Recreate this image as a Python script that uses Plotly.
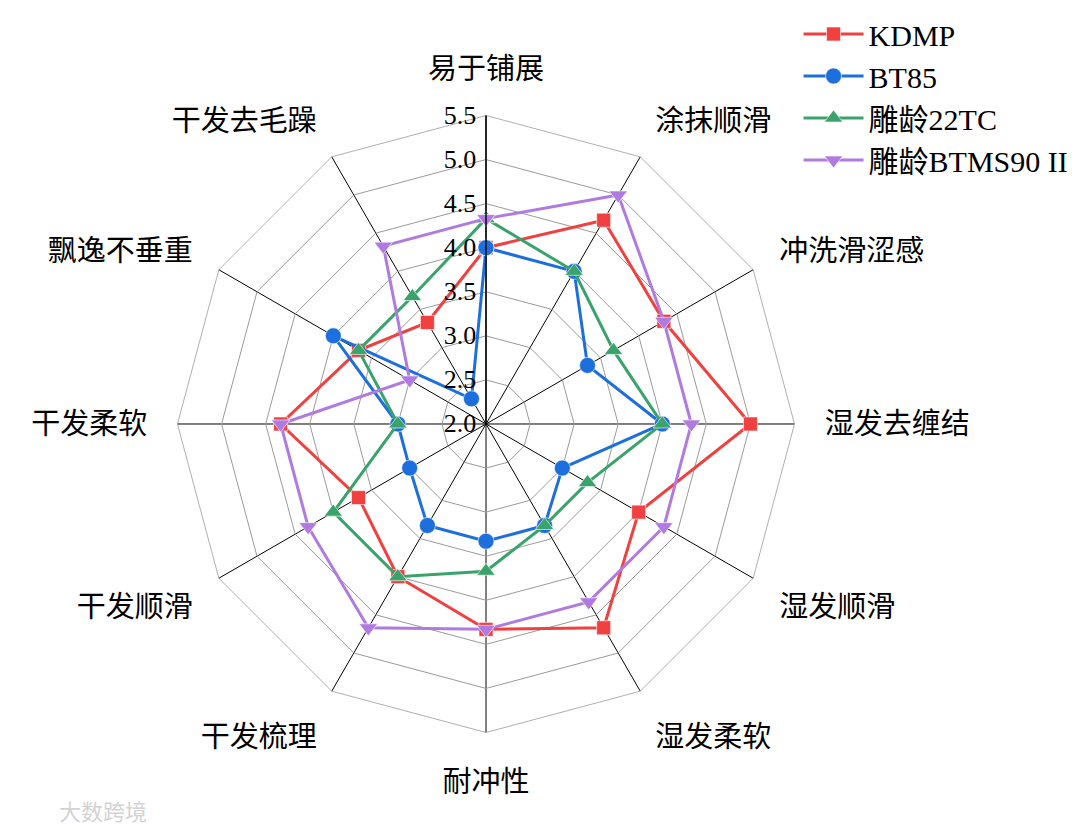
import plotly.graph_objects as go

categories = ["易于铺展", "涂抹顺滑", "冲洗滑涩感", "湿发去缠结", "湿发顺滑", "湿发柔软",
              "耐冲性", "干发梳理", "干发顺滑", "干发柔软", "飘逸不垂重", "干发去毛躁"]

kdmp = [4.0, 4.67, 4.33, 5.0, 4.0, 4.67, 4.33, 4.0, 3.67, 4.33, 3.67, 3.33]
bt85 = [4.0, 4.0, 3.33, 4.0, 3.0, 3.33, 3.33, 3.33, 3.0, 3.0, 4.0, 2.33]
tc22 = [4.33, 4.0, 3.67, 4.0, 3.33, 3.33, 3.67, 4.0, 4.0, 3.0, 3.67, 3.67]
btms90 = [4.33, 5.0, 4.33, 4.33, 4.33, 4.33, 4.33, 4.67, 4.33, 4.33, 3.0, 4.33]

series_names = ["KDMP", "BT85", "雕龄22TC", "雕龄BTMS90 II"]
series_values = [kdmp, bt85, tc22, btms90]
colors = ["#F0403F", "#1C6FDC", "#3AA36C", "#B07BE0"]
symbols = ["square", "circle", "triangle-up", "triangle-down"]
sizes = [14, 16, 16, 16]

FONT = "Liberation Serif, Times New Roman, Noto Sans CJK SC, serif"

fig = go.Figure()
for name, vals, c, s, sz in zip(series_names, series_values, colors, symbols, sizes):
    fig.add_trace(go.Scatterpolar(
        r=vals + [vals[0]],
        theta=categories + [categories[0]],
        mode="lines+markers",
        name=name,
        line=dict(color=c, width=3),
        marker=dict(symbol=s, size=sz, color=c, line=dict(color="white", width=0.6)),
    ))

cx, cy, R = 478, 414, 310
W, H = 1080, 827
fig.update_layout(
    width=W, height=H,
    margin=dict(l=0, r=0, t=0, b=0),
    paper_bgcolor="white",
    font=dict(family=FONT, size=28, color="black"),
    polar=dict(
        domain=dict(x=[(cx - R) / W, (cx + R) / W],
                    y=[(H - cy - R) / H, (H - cy + R) / H]),
        gridshape="linear",
        bgcolor="white",
        radialaxis=dict(
            range=[2, 5.5], tick0=2, dtick=0.5, tickformat=".1f",
            angle=90, side="counterclockwise", tickangle=90,
            showline=True, linecolor="black", linewidth=1.4,
            gridcolor="#9a9a9a", gridwidth=0.8,
            ticks="", tickfont=dict(family=FONT, size=26, color="black"),
        ),
        angularaxis=dict(
            rotation=90, direction="clockwise",
            showline=True, linecolor="#9a9a9a", linewidth=0.8,
            gridcolor="black", gridwidth=1.4,
            ticks="outside", ticklen=24, tickcolor="rgba(0,0,0,0)",
            tickfont=dict(family=FONT, size=29, color="black"),
        ),
    ),
    legend=dict(
        x=0.732, y=1.005, xanchor="left", yanchor="top",
        bgcolor="rgba(0,0,0,0)",
        font=dict(family=FONT, size=30, color="black"),
        itemwidth=60, tracegroupgap=0,
    ),
    annotations=[dict(
        text="大数跨境", x=0.045, y=0.008, xref="paper", yref="paper",
        xanchor="left", yanchor="bottom",
        showarrow=False, font=dict(family="Noto Sans CJK SC", size=22, color="rgba(190,190,190,0.7)"),
    )],
)

fig.write_html("out.html")
